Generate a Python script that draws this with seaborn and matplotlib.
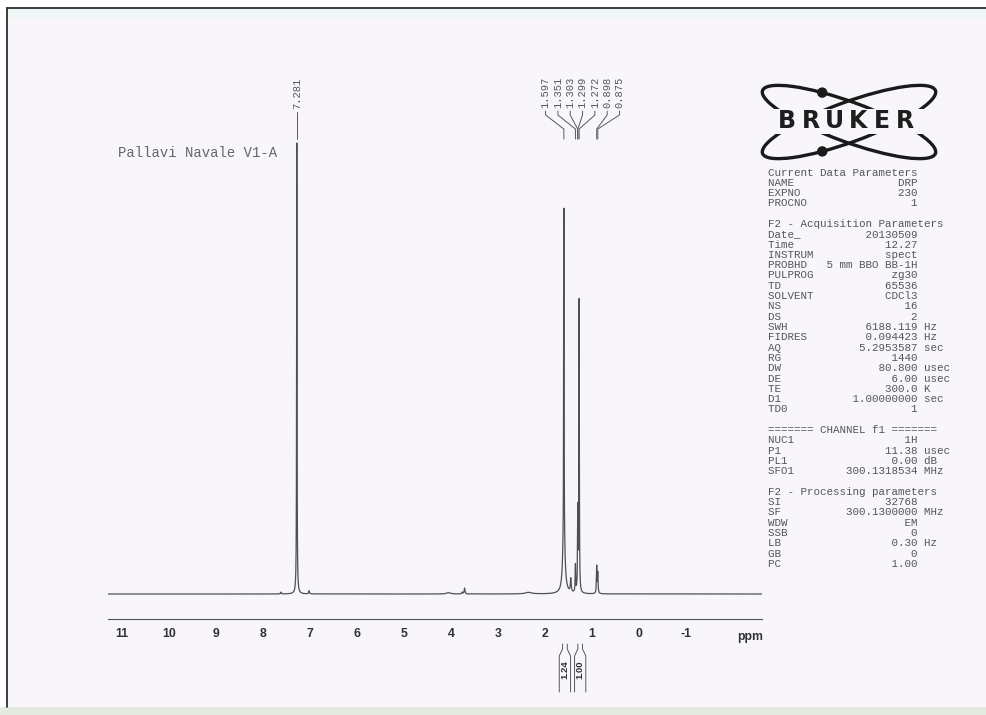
import numpy as np
import pandas as pd
import matplotlib
matplotlib.use("Agg")
import matplotlib.pyplot as plt
import seaborn as sns
from matplotlib.patches import Ellipse, Rectangle, Circle
from matplotlib.ticker import MultipleLocator, FixedLocator
from matplotlib.transforms import blended_transform_factory

# ---------------------------------------------------------------- data
sample_name = "Pallavi Navale V1-A"

# resonances: chemical shift (ppm), height (7.281 line = 100), half width (ppm)
peak_ppm = [7.62, 7.281, 7.02, 4.05, 3.76, 3.71, 2.35, 1.597, 1.597, 1.45,
            1.351, 1.303, 1.299, 1.272, 0.898, 0.875]
peak_height = [0.4, 100.0, 0.7, 0.3, 0.4, 1.3, 0.35, 74.5, 11.0, 3.0,
               6.0, 8.0, 12.0, 64.5, 6.0, 4.5]
peak_hwhm = [0.01, 0.005, 0.01, 0.05, 0.01, 0.01, 0.08, 0.005, 0.03, 0.01,
             0.006, 0.006, 0.006, 0.005, 0.007, 0.007]

# picked peaks
single_labels = ["7.281"]
cluster_labels = ["1.597", "1.351", "1.303", "1.299", "1.272", "0.898", "0.875"]

# integrals
integral_ranges = [(1.70, 1.45), (1.40, 1.10)]
integral_values = ["1.24", "1.00"]

ppm_ticks = [11, 10, 9, 8, 7, 6, 5, 4, 3, 2, 1, 0, -1]
ppm_lim = (11.30, -2.62)

# acquisition / processing parameters
current_params = [("NAME", "DRP", ""), ("EXPNO", "230", ""), ("PROCNO", "1", "")]
acq_params = [("Date_", "20130509", ""), ("Time", "12.27", ""),
              ("INSTRUM", "spect", ""), ("PROBHD", "5 mm BBO BB-1H", ""),
              ("PULPROG", "zg30", ""), ("TD", "65536", ""),
              ("SOLVENT", "CDCl3", ""), ("NS", "16", ""), ("DS", "2", ""),
              ("SWH", "6188.119", "Hz"), ("FIDRES", "0.094423", "Hz"),
              ("AQ", "5.2953587", "sec"), ("RG", "1440", ""),
              ("DW", "80.800", "usec"), ("DE", "6.00", "usec"),
              ("TE", "300.0", "K"), ("D1", "1.00000000", "sec"),
              ("TD0", "1", "")]
chan_params = [("NUC1", "1H", ""), ("P1", "11.38", "usec"),
               ("PL1", "0.00", "dB"), ("SFO1", "300.1318534", "MHz")]
proc_params = [("SI", "32768", ""), ("SF", "300.1300000", "MHz"),
               ("WDW", "EM", ""), ("SSB", "0", ""), ("LB", "0.30", "Hz"),
               ("GB", "0", ""), ("PC", "1.00", "")]

# ---------------------------------------------------------------- style
sns.set_style("white")
plt.rcParams["font.family"] = ["Liberation Mono", "DejaVu Sans Mono"]
INK = "#585858"
MONO = "Liberation Mono"
SANS = "Liberation Sans"
PAGE = "#f8f6fb"

W, H = 987, 715
fig = plt.figure(figsize=(W / 100, H / 100), dpi=100)
fig.patch.set_facecolor("white")

# page layer in pixel coordinates
bg = fig.add_axes([0, 0, 1, 1])
bg.set_xlim(0, W)
bg.set_ylim(H, 0)
bg.axis("off")
bg.add_patch(Rectangle((7, 8), W - 7, 699, facecolor=PAGE, edgecolor="none"))
bg.add_patch(Rectangle((8, 9), W - 8, 10, facecolor="#eef7f5", edgecolor="none"))
bg.add_patch(Rectangle((0, 707), W, 8, facecolor="#e6ebe2", edgecolor="none"))
bg.plot([7, W], [8, 8], color="#2a2e2e", lw=1.3)
bg.plot([7, 7], [8, 707], color="#2a2e2e", lw=1.3)

# ---------------------------------------------------------------- spectrum
BASE_Y, RULER_Y, TOP_Y = 594, 619, 100
UNIT = (BASE_Y - 143) / 100.0          # pixels per intensity unit
left, right = 108 / W, 762 / W
ax = fig.add_axes([left, 1 - RULER_Y / H, right - left, (RULER_Y - TOP_Y) / H])
ax.patch.set_visible(False)

grid = np.union1d(np.linspace(ppm_lim[1], ppm_lim[0], 30000), peak_ppm)
intensity = np.zeros_like(grid)
for p, h, w in zip(peak_ppm, peak_height, peak_hwhm):
    intensity += h / (1.0 + ((grid - p) / w) ** 2)
spec = pd.DataFrame({"ppm": grid, "intensity": intensity})
sns.lineplot(data=spec, x="ppm", y="intensity", ax=ax, color="#505050",
             lw=0.9, sort=False, estimator=None)

ax.set_xlim(*ppm_lim)
ax.set_ylim(-(RULER_Y - BASE_Y) / UNIT, (BASE_Y - TOP_Y) / UNIT)
for s in ["top", "left", "right"]:
    ax.spines[s].set_visible(False)
ax.spines["bottom"].set_color("#555555")
ax.spines["bottom"].set_linewidth(0.8)
ax.set_yticks([])
ax.xaxis.set_major_locator(FixedLocator(ppm_ticks))
ax.xaxis.set_minor_locator(MultipleLocator(0.1))
ax.set_xticklabels([str(t) for t in ppm_ticks])
ax.tick_params(axis="x", which="major", direction="out", length=3.5, width=0.8,
               color="#555555", pad=3.0, labelsize=8.8)
ax.tick_params(axis="x", which="minor", direction="out", length=1.6, width=0.5,
               color="#666666")
for lab in ax.get_xticklabels():
    lab.set_fontfamily(SANS)
    lab.set_fontweight("bold")
    lab.set_color("#303030")
ax.set_xlabel("")
ax.set_ylabel("")

# mixed transform: x in ppm, y in page pixels
xp = blended_transform_factory(ax.transData, bg.transData)
ax.text(-2.36, 637, "ppm", transform=xp, ha="center", va="center",
        fontfamily=SANS, fontweight="bold", fontsize=8.8, color="#303030",
        clip_on=False)

# peak labels with leaders
for lab in single_labels:
    v = float(lab)
    ax.text(v, 109, lab, transform=xp, rotation=90, ha="center", va="bottom",
            fontfamily=MONO, fontsize=7.6, color=INK, clip_on=False)
    ax.plot([v, v], [112, 139], transform=xp, color=INK, lw=0.7, clip_on=False)

spacing = 0.262
centre = 1.20
n = len(cluster_labels)
for i, lab in enumerate(cluster_labels):
    v = float(lab)
    lx = centre + spacing * ((n - 1) / 2 - i)
    ax.text(lx, 108, lab, transform=xp, rotation=90, ha="center", va="bottom",
            fontfamily=MONO, fontsize=7.6, color=INK, clip_on=False)
    ax.plot([lx, lx, v, v], [111, 115, 129, 139], transform=xp, color=INK,
            lw=0.7, clip_on=False)

# integral labels
for (a, b), val in zip(integral_ranges, integral_values):
    mid = (a + b) / 2
    half = 0.12
    ax.text(mid, 670, val, transform=xp, rotation=90, ha="center", va="center",
            fontfamily=SANS, fontweight="bold", fontsize=6.8, color="#303030",
            clip_on=False)
    for sgn in (-1, 1):
        ax.plot([mid + sgn * half, mid + sgn * half, mid + sgn * 0.05, mid + sgn * 0.05],
                [692, 656, 649, 644], transform=xp, color=INK, lw=0.7,
                clip_on=False)

# ---------------------------------------------------------------- title
bg.text(118, 153, sample_name, ha="left", va="center", fontfamily=MONO,
        fontsize=10, color="#666666")

# ---------------------------------------------------------------- logo
cx, cy = 849, 122
a_semi, b_semi = 92, 20
tt = np.linspace(0, 2 * np.pi, 721)


def orbit_point(ang, x_target, upper):
    th = np.radians(ang)
    ex = cx + a_semi * np.cos(tt) * np.cos(th) - b_semi * np.sin(tt) * np.sin(th)
    ey = cy + a_semi * np.cos(tt) * np.sin(th) + b_semi * np.sin(tt) * np.cos(th)
    side = ey < cy if upper else ey > cy
    k = np.argmin(np.abs(ex - x_target) + np.where(side, 0, 1e6))
    return ex[k], ey[k]


for ang in (20, -20):
    bg.add_patch(Ellipse((cx, cy), 2 * a_semi, 2 * b_semi, angle=ang, fill=False,
                         edgecolor="#1a1a1a", lw=2.4))
for ang, xt, up in [(20, 822, True), (-20, 822, False)]:
    ex, ey = orbit_point(ang, xt, up)
    bg.add_patch(Circle((ex, ey), 4.5, color="#1a1a1a", zorder=3))
bg.add_patch(Rectangle((766, 109), 158, 25, facecolor=PAGE, edgecolor="none"))
for i, ch in enumerate("BRUKER"):
    bg.text(775 + 142 / 6 * (i + 0.5), 121.5, ch, ha="center", va="center",
            fontfamily="DejaVu Sans", fontweight="heavy", fontsize=17,
            color="#1e1e1e")

# ---------------------------------------------------------------- parameters
lines = ["Current Data Parameters"]
fmt = lambda k, v, u: f"{k:<8}{v:>15}" + (f" {u}" if u else "")
lines += [fmt(*p) for p in current_params]
lines += ["", "F2 - Acquisition Parameters"]
lines += [fmt(*p) for p in acq_params]
lines += ["", "======= CHANNEL f1 ======="]
lines += [fmt(*p) for p in chan_params]
lines += ["", "F2 - Processing parameters"]
lines += [fmt(*p) for p in proc_params]
for i, line in enumerate(lines):
    if line:
        bg.text(768, 175.5 + i * 10.3, line, ha="left", va="baseline",
                fontfamily=MONO, fontsize=7.8, color="#555555")

fig.savefig("out.png", dpi=100)
